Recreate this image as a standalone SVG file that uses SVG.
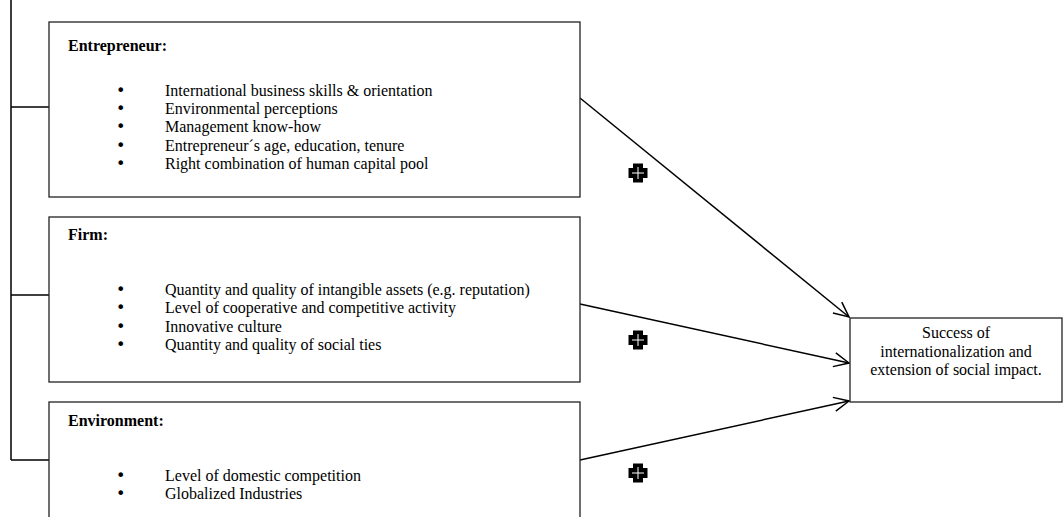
<svg xmlns="http://www.w3.org/2000/svg" width="1064" height="517" viewBox="0 0 1064 517">
<style>
.box{fill:#fff;stroke:#222;stroke-width:1.3}
.t{font-family:"Liberation Serif","Times New Roman",serif;font-size:16px;fill:#000}
.bu{font-family:"DejaVu Sans",sans-serif;font-size:16px}
.b{font-weight:bold}
.c{text-anchor:middle}
.ln{stroke:#000;stroke-width:1.5;fill:none}
</style>
<defs>
<marker id="arr" viewBox="0 0 17 16" refX="16" refY="8" markerWidth="17" markerHeight="16" markerUnits="userSpaceOnUse" orient="auto">
<path d="M1,1 L16,8 L1,15" fill="none" stroke="#000" stroke-width="1.5"/>
</marker>
<g id="plus">
<path d="M-5,-9.5 H5 V-5 H9.5 V5 H5 V9.5 H-5 V5 H-9.5 V-5 H-5 Z" fill="#000"/>
<path d="M-6,0 H6 M0,-6 V6" stroke="#fff" stroke-width="1"/>
</g>
</defs>
<g id="connectors">
<path class="ln" d="M11,0 V460 M11,107 H49 M11,295 H49 M11,460 H49"/>
<line class="ln" x1="580" y1="98" x2="849" y2="317" marker-end="url(#arr)"/>
<line class="ln" x1="580" y1="304" x2="849" y2="363" marker-end="url(#arr)"/>
<line class="ln" x1="580" y1="460" x2="849" y2="401" marker-end="url(#arr)"/>
<use href="#plus" x="638" y="173"/>
<use href="#plus" x="638" y="340"/>
<use href="#plus" x="638" y="473"/>
</g>
<g id="entrepreneur">
<rect class="box" x="49" y="22" width="531" height="175"/>
<text class="t b" x="68" y="51">Entrepreneur:</text>
<text class="t" y="96"><tspan class="bu" x="116">•</tspan><tspan x="165">International business skills &amp; orientation</tspan></text>
<text class="t" y="114.2"><tspan class="bu" x="116">•</tspan><tspan x="165">Environmental perceptions</tspan></text>
<text class="t" y="132.4"><tspan class="bu" x="116">•</tspan><tspan x="165">Management know-how</tspan></text>
<text class="t" y="150.6"><tspan class="bu" x="116">•</tspan><tspan x="165">Entrepreneur´s age, education, tenure</tspan></text>
<text class="t" y="168.8"><tspan class="bu" x="116">•</tspan><tspan x="165">Right combination of human capital pool</tspan></text>
</g>
<g id="firm">
<rect class="box" x="49" y="217" width="531" height="165"/>
<text class="t b" x="68" y="240">Firm:</text>
<text class="t" y="295"><tspan class="bu" x="116">•</tspan><tspan x="165">Quantity and quality of intangible assets (e.g. reputation)</tspan></text>
<text class="t" y="313.3"><tspan class="bu" x="116">•</tspan><tspan x="165">Level of cooperative and competitive activity</tspan></text>
<text class="t" y="331.6"><tspan class="bu" x="116">•</tspan><tspan x="165">Innovative culture</tspan></text>
<text class="t" y="349.9"><tspan class="bu" x="116">•</tspan><tspan x="165">Quantity and quality of social ties</tspan></text>
</g>
<g id="environment">
<rect class="box" x="49" y="402" width="531" height="130"/>
<text class="t b" x="68" y="426">Environment:</text>
<text class="t" y="481"><tspan class="bu" x="116">•</tspan><tspan x="165">Level of domestic competition</tspan></text>
<text class="t" y="499.3"><tspan class="bu" x="116">•</tspan><tspan x="165">Globalized Industries</tspan></text>
</g>
<g id="outcome">
<rect class="box" x="850" y="318" width="212" height="84"/>
<text class="t c" x="956" y="338">Success of</text>
<text class="t c" x="956" y="356.5">internationalization and</text>
<text class="t c" x="956" y="375">extension of social impact.</text>
</g>
</svg>
